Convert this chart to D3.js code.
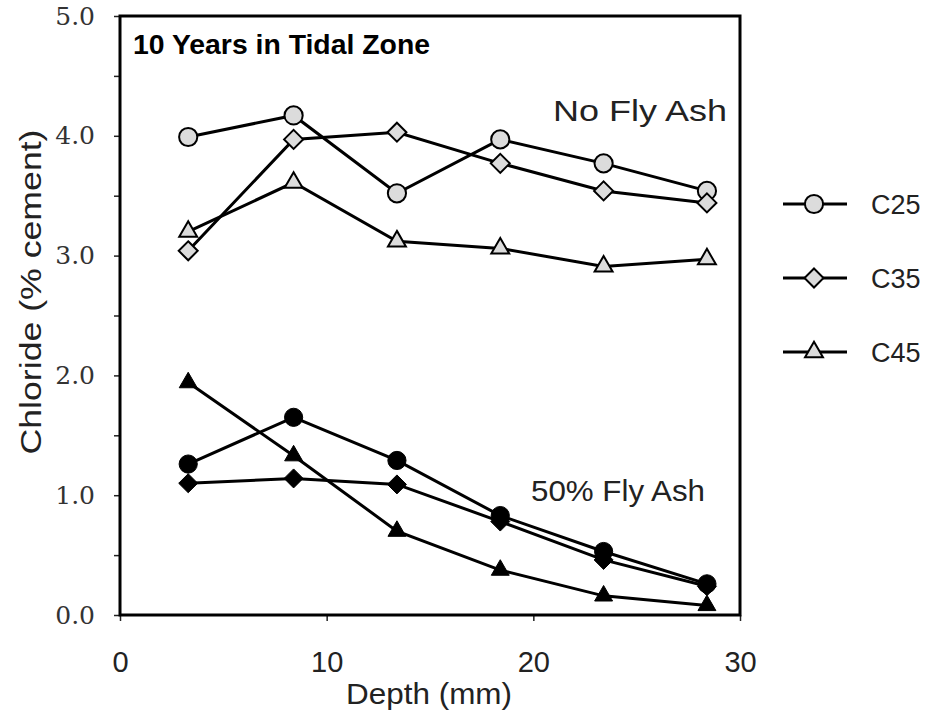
<!DOCTYPE html>
<html>
<head>
<meta charset="utf-8">
<script src="https://cdn.jsdelivr.net/npm/d3@7"></script>
<style>
  body { margin: 0; background: #fff; }
  svg { display: block; }
</style>
</head>
<body>
<svg id="chart" width="931" height="715"></svg>
<script>
(function() {

  // data
  let depths = [3.3, 8.4, 13.4, 18.4, 23.4, 28.4];
  let mixes = ["C25", "C35", "C45"];
  let noFlyAsh = {
    C25: [3.99, 4.17, 3.52, 3.97, 3.77, 3.54],
    C35: [3.04, 3.97, 4.03, 3.77, 3.54, 3.44],
    C45: [3.20, 3.61, 3.12, 3.06, 2.91, 2.97]
  };
  let flyAsh50 = {
    C25: [1.26, 1.65, 1.29, 0.83, 0.53, 0.26],
    C35: [1.10, 1.14, 1.09, 0.78, 0.46, 0.24],
    C45: [1.94, 1.33, 0.70, 0.375, 0.16, 0.08]
  };
  let xTicks = [0, 10, 20, 30];
  let yTicks = d3.range(0, 5.01, 0.5);

  let left = 120, right = 740, top = 16, bottom = 615;
  let sans = "'Liberation Sans', Arial, sans-serif";

  let svg = d3.select("#chart");

  let xScale = d3.scaleLinear().domain([0, 30]).range([left, right]);
  let yScale = d3.scaleLinear().domain([0, 5]).range([bottom, top]);

  // axes
  let xAxis = d3.axisBottom(xScale)
                .tickValues(xTicks)
                .tickSize(6)
                .tickPadding(30)
                .tickFormat(d3.format("d"));
  let yAxis = d3.axisLeft(yScale)
                .tickValues(yTicks)
                .tickSize(6)
                .tickPadding(19)
                .tickFormat(d => d % 1 === 0 ? d3.format(".1f")(d) : "");

  let gx = svg.append("g")
     .attr("transform", "translate(0," + bottom + ")")
     .call(xAxis);
  gx.select(".domain").remove();
  gx.selectAll("line").attr("stroke", "#222").attr("stroke-width", 1.5);
  gx.selectAll("text")
    .attr("font-family", sans)
    .attr("font-size", "29px")
    .attr("fill", "#222");

  let gy = svg.append("g")
     .attr("transform", "translate(" + left + ",0)")
     .call(yAxis);
  gy.select(".domain").remove();
  gy.selectAll("line").attr("stroke", "#222").attr("stroke-width", 1.5);
  gy.selectAll("text")
    .attr("font-family", "'DejaVu Serif', serif")
    .attr("font-size", "25px")
    .attr("fill", "#333");

  // frame
  svg.append("rect")
     .attr("x", left).attr("y", top)
     .attr("width", right - left).attr("height", bottom - top)
     .attr("fill", "none")
     .attr("stroke", "#000")
     .attr("stroke-width", 3);

  // axis titles
  svg.append("text")
     .attr("x", (left + right) / 2 - 1)
     .attr("y", 704)
     .attr("text-anchor", "middle")
     .attr("font-family", sans)
     .attr("font-size", "29px")
     .attr("textLength", 166)
     .attr("lengthAdjust", "spacingAndGlyphs")
     .attr("fill", "#222")
     .text("Depth (mm)");
  svg.append("text")
     .attr("transform", "translate(41,292) rotate(-90)")
     .attr("text-anchor", "middle")
     .attr("font-family", sans)
     .attr("font-size", "30px")
     .attr("textLength", 325)
     .attr("lengthAdjust", "spacingAndGlyphs")
     .attr("fill", "#222")
     .text("Chloride (% cement)");

  // labels inside the plot
  svg.append("text")
     .attr("x", 133).attr("y", 54)
     .attr("font-family", sans)
     .attr("font-weight", "bold")
     .attr("font-size", "27px")
     .attr("textLength", 297)
     .attr("lengthAdjust", "spacingAndGlyphs")
     .text("10 Years in Tidal Zone");
  svg.append("text")
     .attr("x", 553).attr("y", 121)
     .attr("font-family", sans)
     .attr("font-size", "30px")
     .attr("textLength", 174)
     .attr("lengthAdjust", "spacingAndGlyphs")
     .attr("fill", "#222")
     .text("No Fly Ash");
  svg.append("text")
     .attr("x", 531).attr("y", 501)
     .attr("font-family", sans)
     .attr("font-size", "30px")
     .attr("textLength", 174)
     .attr("lengthAdjust", "spacingAndGlyphs")
     .attr("fill", "#222")
     .text("50% Fly Ash");

  // marker shapes
  let shapes = {
    C25: d3.symbol().type(d3.symbolCircle).size(260),
    C35: d3.symbol().type(d3.symbolDiamond2).size(230),
    C45: d3.symbol().type(d3.symbolTriangle2).size(230)
  };

  let line = d3.line()
               .x((d, i) => xScale(depths[i]))
               .y(d => yScale(d));

  function plotGroup(set, open) {
    mixes.forEach(m => {
      svg.append("path")
         .datum(set[m])
         .attr("fill", "none")
         .attr("stroke", "#000")
         .attr("stroke-width", 3)
         .attr("d", line);
    });
    mixes.forEach(m => {
      svg.selectAll(null)
         .data(set[m])
         .enter()
         .append("path")
         .attr("transform", (d, i) => "translate(" + xScale(depths[i]) + "," + yScale(d) + ")")
         .attr("d", shapes[m])
         .attr("fill", open ? "#dcdcdc" : "#000")
         .attr("stroke", "#000")
         .attr("stroke-width", open ? 2 : 1);
    });
  }

  plotGroup(noFlyAsh, true);
  plotGroup(flyAsh50, false);

  // legend
  let legendY = [204, 278, 352];
  mixes.forEach((m, i) => {
    let g = svg.append("g").attr("transform", "translate(0," + legendY[i] + ")");
    g.append("line")
     .attr("x1", 783).attr("x2", 847)
     .attr("y1", 0).attr("y2", 0)
     .attr("stroke", "#000")
     .attr("stroke-width", 3);
    g.append("path")
     .attr("transform", "translate(814,0)")
     .attr("d", shapes[m])
     .attr("fill", "#dcdcdc")
     .attr("stroke", "#000")
     .attr("stroke-width", 2);
    g.append("text")
     .attr("x", 871).attr("y", 10)
     .attr("font-family", sans)
     .attr("font-size", "27px")
     .attr("fill", "#222")
     .text(m);
  });

})();
</script>
</body>
</html>
